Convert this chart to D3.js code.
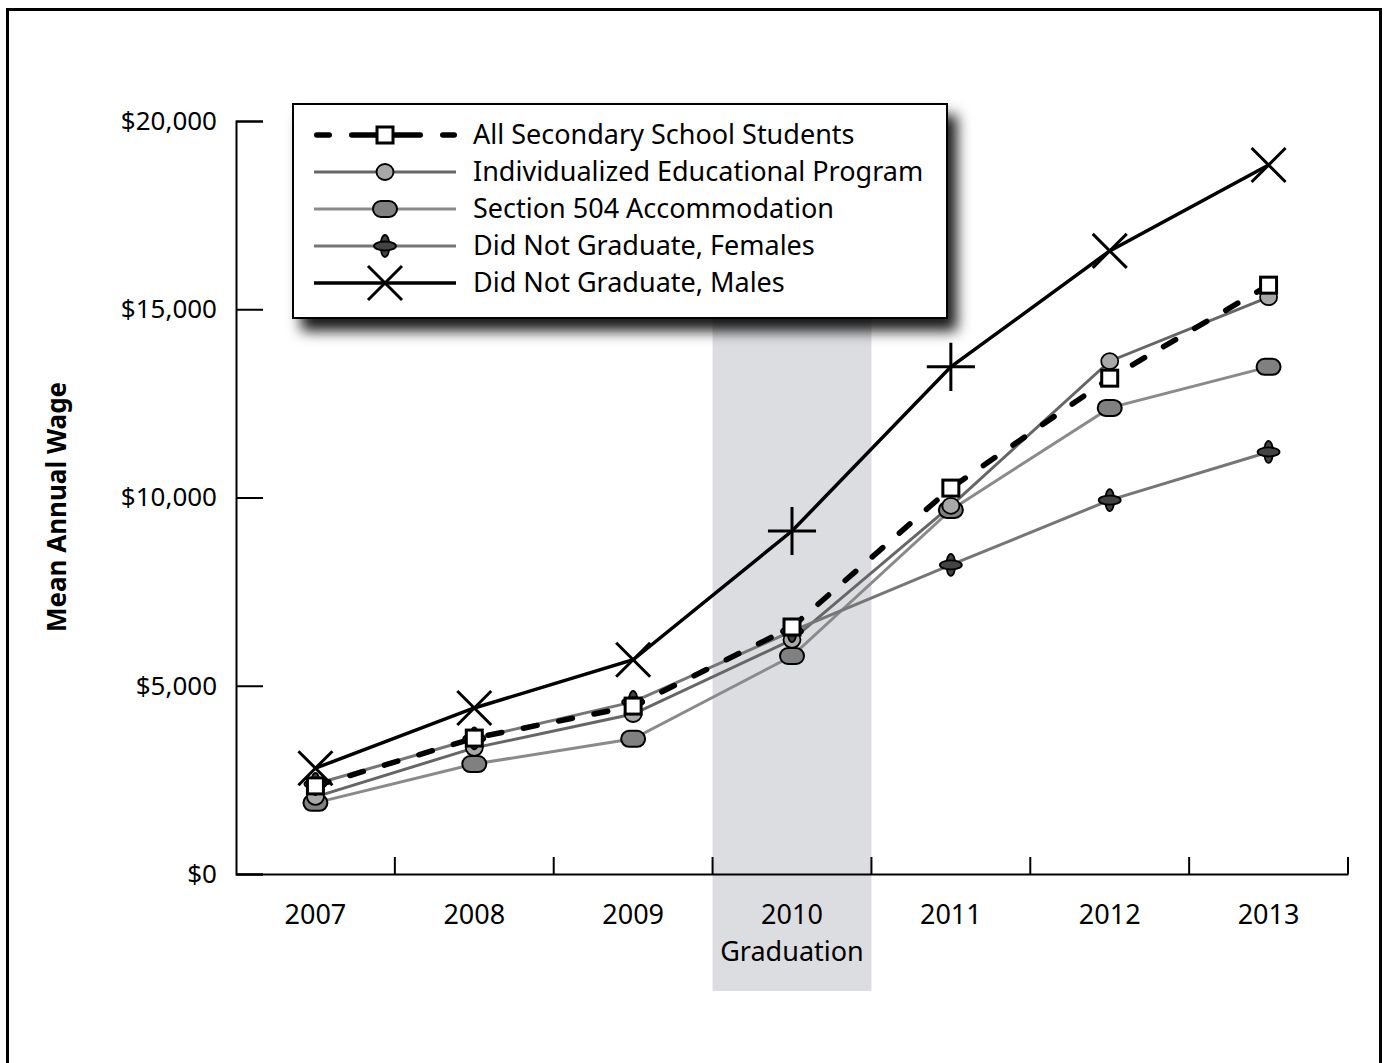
<!DOCTYPE html>
<html lang="en">
<head>
<meta charset="utf-8">
<script src="https://d3js.org/d3.v7.min.js"></script>
<title>Mean Annual Wage</title>
<style>
  body { margin: 0; background: #fff; }
  text { font-family: "Noto Sans", "Open Sans", sans-serif; fill: #000; }
</style>
</head>
<body>
<svg width="1388" height="1063"></svg>
<script>
// data
var years = ["2007", "2008", "2009", "2010", "2011", "2012", "2013"];
var yTicks = [0, 5000, 10000, 15000, 20000];
var seriesNames = ["All Secondary School Students", "Individualized Educational Program",
  "Section 504 Accommodation", "Did Not Graduate, Females", "Did Not Graduate, Males"];
var allStudents = [2340, 3610, 4460, 6560, 10250, 13170, 15640];
var iep         = [2050, 3350, 4250, 6220, 9780, 13620, 15320];
var sec504      = [1890, 2920, 3590, 5790, 9670, 12380, 13470];
var females     = [2390, 3600, 4570, 6450, 8210, 9930, 11210];
var males       = [2810, 4410, 5690, 9110, 13470, 16550, 18830];
var gradYear = "2010";

var svg = d3.select("svg");

var x = d3.scaleBand().domain(years).range([236, 1348]);
var y = d3.scaleLinear().domain([0, 20000]).range([874, 121]);

// outer frame
svg.append("rect")
  .attr("x", 7.5).attr("y", 9.5).attr("width", 1373).attr("height", 1100)
  .attr("fill", "#fff").attr("stroke", "#000").attr("stroke-width", 3);

// graduation band
svg.append("rect")
  .attr("x", x(gradYear)).attr("y", 121)
  .attr("width", x.bandwidth()).attr("height", 991 - 121)
  .attr("fill", "#dcdde0");

// y axis
var yAxis = svg.append("g")
  .attr("transform", "translate(236,0)")
  .call(d3.axisLeft(y).tickValues(yTicks).tickFormat(d3.format("$,.0f")).tickSize(-27).tickPadding(19));
yAxis.selectAll("line, path").attr("stroke", "#000").attr("stroke-width", 2);
yAxis.selectAll("text").style("font-size", "26px").attr("font-family", null);

// x axis
var xAxis = svg.append("g")
  .attr("transform", "translate(0,874)")
  .call(d3.axisBottom(x).tickSize(0).tickPadding(31));
xAxis.select("path").attr("stroke", "#000").attr("stroke-width", 2);
xAxis.selectAll("text").style("font-size", "27px").attr("font-family", null);
xAxis.selectAll(".tick").filter(function(d) { return d === gradYear; })
  .append("text")
    .attr("y", 87).attr("fill", "#000")
    .style("font-size", "27px")
    .text("Graduation");

svg.append("g").selectAll("line")
  .data(years)
  .join("line")
    .attr("x1", function(d) { return x(d) + x.bandwidth(); })
    .attr("x2", function(d) { return x(d) + x.bandwidth(); })
    .attr("y1", 874).attr("y2", 857)
    .attr("stroke", "#000").attr("stroke-width", 2);

svg.append("text")
  .attr("transform", "translate(57,507) rotate(-90)")
  .attr("text-anchor", "middle")
  .attr("dy", "0.35em")
  .style("font-size", "26px").style("font-weight", "bold")
  .text("Mean Annual Wage");

// series styles
var series = [
  {name: seriesNames[2], values: sec504, color: "#8a8a8a", width: 3, dash: null, marker: "pill"},
  {name: seriesNames[1], values: iep, color: "#666", width: 3, dash: null, marker: "circle"},
  {name: seriesNames[3], values: females, color: "#767676", width: 3, dash: null, marker: "flower"},
  {name: seriesNames[0], values: allStudents, color: "#000", width: 5.5, dash: "14 22", marker: "square"},
  {name: seriesNames[4], values: males, color: "#000", width: 3.5, dash: null, marker: "cross"}
];

var line = d3.line()
  .x(function(d, i) { return x(years[i]) + x.bandwidth() / 2; })
  .y(function(d) { return y(d); });

svg.append("g").selectAll("path")
  .data(series)
  .join("path")
    .attr("d", function(s) { return line(s.values); })
    .attr("fill", "none")
    .attr("stroke", function(s) { return s.color; })
    .attr("stroke-width", function(s) { return s.width; })
    .attr("stroke-dasharray", function(s) { return s.dash; })
    .attr("stroke-linecap", function(s) { return s.dash ? "round" : "butt"; });

function drawMarker(g, type, rot) {
  if (type === "square") {
    g.append("rect").attr("x", -8).attr("y", -8).attr("width", 16).attr("height", 16)
      .attr("fill", "#fff").attr("stroke", "#000").attr("stroke-width", 3);
  } else if (type === "circle") {
    g.append("ellipse").attr("rx", 8.5).attr("ry", 8)
      .attr("fill", "#a8a8a8").attr("stroke", "#000").attr("stroke-width", 1.8);
  } else if (type === "pill") {
    g.append("rect").attr("x", -12).attr("y", -8).attr("width", 24).attr("height", 16).attr("rx", 8)
      .attr("fill", "#808080").attr("stroke", "#000").attr("stroke-width", 2);
  } else if (type === "flower") {
    g.append("ellipse").attr("rx", 4.5).attr("ry", 11)
      .attr("fill", "#444").attr("stroke", "#000").attr("stroke-width", 1.8);
    g.append("ellipse").attr("rx", 11).attr("ry", 4.5)
      .attr("fill", "#444").attr("stroke", "#000").attr("stroke-width", 1.8);
  } else if (type === "cross") {
    g.append("path").attr("d", "M-17,-17L17,17M-17,17L17,-17")
      .attr("transform", "rotate(" + (rot || 0) + ")")
      .attr("stroke", "#000").attr("stroke-width", 3);
  }
}

// the X marker reads as "+" where the line runs steep
function crossRotation(vals, i) {
  var angs = [];
  if (i > 0) angs.push(Math.atan2(y(vals[i - 1]) - y(vals[i]), x.bandwidth()));
  if (i < vals.length - 1) angs.push(Math.atan2(y(vals[i]) - y(vals[i + 1]), x.bandwidth()));
  var a = d3.mean(angs) * 180 / Math.PI;
  return a > 37 ? 45 : 0;
}

series.forEach(function(s) {
  s.values.forEach(function(v, i) {
    var g = svg.append("g")
      .attr("transform", "translate(" + (x(years[i]) + x.bandwidth() / 2) + "," + y(v) + ")");
    drawMarker(g, s.marker, s.marker === "cross" ? crossRotation(s.values, i) : 0);
  });
});

// legend
var defs = svg.append("defs");
var f = defs.append("filter").attr("id", "shadow").attr("x", "-10%").attr("y", "-10%").attr("width", "130%").attr("height", "140%");
f.append("feDropShadow").attr("dx", 9).attr("dy", 12).attr("stdDeviation", 7)
  .attr("flood-color", "#000").attr("flood-opacity", 0.9);

var legend = svg.append("g");
legend.append("rect")
  .attr("x", 293).attr("y", 104).attr("width", 654).attr("height", 214)
  .attr("fill", "#fff").attr("stroke", "#000").attr("stroke-width", 2)
  .attr("filter", "url(#shadow)");

var legendOrder = [3, 1, 0, 2, 4];
legendOrder.forEach(function(k, i) {
  var s = series[k];
  var row = legend.append("g").attr("transform", "translate(0," + (135 + i * 37) + ")");
  row.append("line")
    .attr("x1", s.dash ? 316.75 : 314).attr("x2", s.dash ? 454.25 : 456)
    .attr("stroke", s.color).attr("stroke-width", s.width)
    .attr("stroke-dasharray", s.dash ? "12.5 22.5 68.5 22.5 11.5" : null)
    .attr("stroke-linecap", s.dash ? "round" : "butt");
  var m = row.append("g").attr("transform", "translate(385,0)");
  drawMarker(m, s.marker, 0);
  row.append("text")
    .attr("x", 473).attr("dy", "0.35em")
    .style("font-size", "27px")
    .text(s.name);
});
</script>
</body>
</html>
